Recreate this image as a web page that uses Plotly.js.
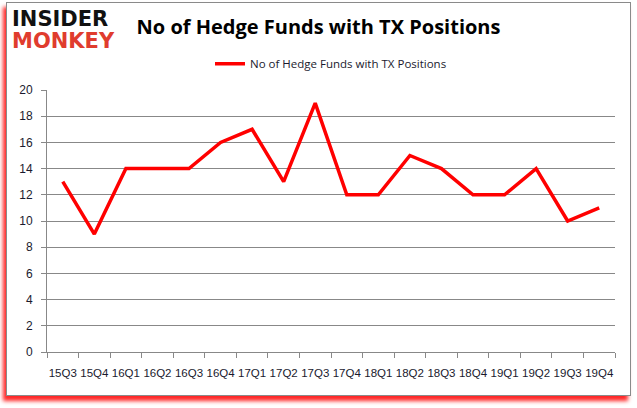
<!DOCTYPE html>
<html>
<head>
<meta charset="utf-8">
<script src="https://cdn.plot.ly/plotly-3.0.1.min.js"></script>
<style>
  html, body { margin: 0; padding: 0; background: #fff; }
  #frame { position: absolute; left: 6px; top: 2px; width: 623px; height: 392px;
           border: 1px solid #8a8a8a; background: #fff;
           box-shadow: -3px 5px 4px rgba(255,0,0,0.85); }
  #chart { position: absolute; left: 0; top: 0; width: 637px; height: 408px; }
</style>
</head>
<body>
<div id="frame"></div>
<div id="chart"></div>
<script>
const quarters = ["15Q3","15Q4","16Q1","16Q2","16Q3","16Q4","17Q1","17Q2","17Q3","17Q4","18Q1","18Q2","18Q3","18Q4","19Q1","19Q2","19Q3","19Q4"];
const hedgeFunds = [13, 9, 14, 14, 14, 16, 17, 13, 19, 12, 12, 15, 14, 12, 12, 14, 10, 11];
const seriesName = "No of Hedge Funds with TX Positions";
const yTicks = [0, 2, 4, 6, 8, 10, 12, 14, 16, 18, 20];

const trace = {
  x: quarters, y: hedgeFunds, type: "scatter", mode: "lines", name: seriesName,
  line: { color: "#ff0000", width: 3.5 }
};

const layout = {
  width: 637, height: 408,
  paper_bgcolor: "rgba(0,0,0,0)", plot_bgcolor: "rgba(0,0,0,0)",
  margin: { l: 47, r: 22, t: 90, b: 56 },
  font: { family: "Open Sans, sans-serif", size: 11, color: "#1a1a2e" },
  showlegend: true,
  legend: { orientation: "h", x: 0.5, xanchor: "center", y: 1.10, yanchor: "middle",
            font: { size: 11.5, color: "#1a1a2e" }, bgcolor: "rgba(0,0,0,0)" },
  title: { text: "<b>No of Hedge Funds with TX Positions</b>", x: 0.5, xanchor: "center",
           y: 0.935, yanchor: "middle",
           font: { family: "Open Sans, sans-serif", size: 20, color: "#000" } },
  xaxis: {
    type: "category", tickson: "boundaries", ticks: "outside", ticklen: 5, tickcolor: "#888",
    showline: true, linecolor: "#888", linewidth: 1, showgrid: false, tickangle: 0,
    tickfont: { family: "Liberation Sans, sans-serif", size: 11.5, color: "#1a1a2e" }, ticklabelstandoff: 10,
    range: [-0.5, 17.5]
  },
  yaxis: {
    range: [0, 20], tickvals: yTicks, ticks: "outside", ticklen: 5, tickcolor: "#888",
    showline: true, linecolor: "#888", linewidth: 1,
    showgrid: true, gridcolor: "#888", gridwidth: 1, zeroline: false, ticklabelstandoff: 6,
    tickfont: { family: "Liberation Sans, sans-serif", size: 12, color: "#1a1a2e" }
  },
  annotations: [
    { text: "<b>INSIDER</b>", xref: "paper", yref: "paper", x: -0.066, y: 1.271, xanchor: "left", yanchor: "middle",
      showarrow: false, font: { family: "DejaVu Sans, sans-serif", size: 21, color: "#111" } },
    { text: "<b>MONKEY</b>", xref: "paper", yref: "paper", x: -0.066, y: 1.187, xanchor: "left", yanchor: "middle",
      showarrow: false, font: { family: "DejaVu Sans, sans-serif", size: 21, color: "#e03c2e" } }
  ]
};

Plotly.newPlot("chart", [trace], layout, { displayModeBar: false, staticPlot: true });
</script>
</body>
</html>
